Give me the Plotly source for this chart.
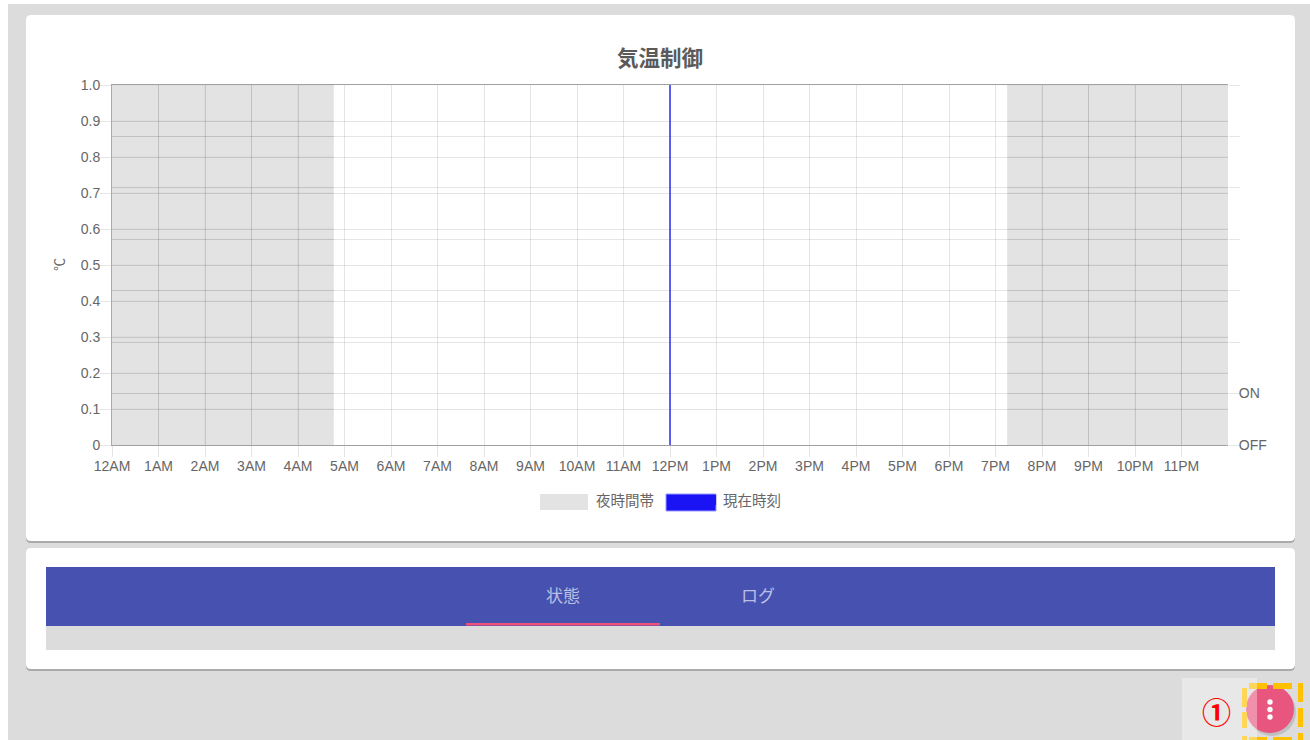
import plotly.graph_objects as go

W, H = 1310, 740
PL, PR, PT, PB = 112, 1228, 85, 445

hours = list(range(24))
hour_labels = ["12AM","1AM","2AM","3AM","4AM","5AM","6AM","7AM","8AM","9AM","10AM","11AM",
               "12PM","1PM","2PM","3PM","4PM","5PM","6PM","7PM","8PM","9PM","10PM","11PM"]
left_ticks = [0, 0.1, 0.2, 0.3, 0.4, 0.5, 0.6, 0.7, 0.8, 0.9, 1.0]
left_labels = ["0", "0.1", "0.2", "0.3", "0.4", "0.5", "0.6", "0.7", "0.8", "0.9", "1.0"]
right_ticks = [0, 1, 2, 3, 4, 5, 6, 7]
right_labels = ["OFF", "ON", "", "", "", "", "", ""]
night_morning_x = [0, 4.77]
night_evening_x = [19.25, 24]
night_y = [1, 1]
now_x = [12, 12]
now_y = [0, 1]

TXT = "#666666"
FONT = "Liberation Sans, Noto Sans CJK JP, sans-serif"
CJK = "Noto Sans CJK JP, sans-serif"
GRID = "rgba(0,0,0,0.1)"
YELLOW = "#ffc000"


def px(x):
    return (x - PL) / (PR - PL)


def py(y):
    return (PB - y) / (PB - PT)


def rect(x0, y0, x1, y1, fill, layer="below", line=None):
    return dict(type="rect", xref="paper", yref="paper", x0=px(x0), x1=px(x1), y0=py(y0), y1=py(y1),
                fillcolor=fill, layer=layer, line=line or dict(width=0))


def rrect(x0, y0, x1, y1, r, fill):
    X0, X1, Y0, Y1, RX, RY = px(x0), px(x1), py(y0), py(y1), r / (PR - PL), r / (PB - PT)
    path = (f"M{X0+RX},{Y0} L{X1-RX},{Y0} Q{X1},{Y0} {X1},{Y0-RY} L{X1},{Y1+RY} Q{X1},{Y1} {X1-RX},{Y1} "
            f"L{X0+RX},{Y1} Q{X0},{Y1} {X0},{Y1+RY} L{X0},{Y0-RY} Q{X0},{Y0} {X0+RX},{Y0} Z")
    return dict(type="path", xref="paper", yref="paper", path=path, fillcolor=fill, layer="below", line=dict(width=0))


def circle(cx, cy, r, fill, layer="above"):
    return dict(type="circle", xref="paper", yref="paper", x0=px(cx - r), x1=px(cx + r), y0=py(cy + r), y1=py(cy - r),
                fillcolor=fill, layer=layer, line=dict(width=0))


fig = go.Figure()
NIGHT = "rgba(0,0,0,0.108)"
for xs in (night_morning_x, night_evening_x):
    fig.add_trace(go.Scatter(x=xs, y=night_y, mode="lines", line=dict(width=0), fill="tozeroy", fillcolor=NIGHT,
                             showlegend=False, hoverinfo="skip"))
    # the grid reads darker through the night band
    grid_x, grid_y = [], []
    for h in hours:
        if xs[0] < h < xs[1]:
            grid_x += [h, h, None]
            grid_y += [0, 1, None]
    for v in left_ticks[1:-1]:
        grid_x += [xs[0], xs[1], None]
        grid_y += [v, v, None]
    for v in right_ticks[1:]:
        grid_x += [xs[0], xs[1], None]
        grid_y += [v / 7, v / 7, None]
    fig.add_trace(go.Scatter(x=grid_x, y=grid_y, mode="lines", line=dict(color="rgba(0,0,0,0.05)", width=1),
                             showlegend=False, hoverinfo="skip"))
fig.add_trace(go.Scatter(x=now_x, y=now_y, mode="lines", line=dict(color="#2b2bf0", width=1.5), showlegend=False, hoverinfo="skip"))
# legend entries
fig.add_trace(go.Scatter(x=[None], y=[None], mode="lines", name="夜時間帯",
                         line=dict(color="#e3e3e3", width=15, dash="48px,100px")))
fig.add_trace(go.Scatter(x=[None], y=[None], mode="lines", name="現在時刻",
                         line=dict(color="#1a14f5", width=15, dash="49px,100px")))
# ON/OFF axis series (no data in the reference)
fig.add_trace(go.Scatter(x=[None], y=[None], yaxis="y2", mode="lines", showlegend=False))

# dashed highlight round the menu button, dash by dash
dash_rects = [
    (1249, 683, 1267, 689), (1273, 683, 1292, 689),
    (1298, 683, 1303, 702), (1298, 708, 1303, 727), (1298, 733, 1303, 740),
    (1242, 688, 1247, 707), (1242, 712, 1247, 728), (1242, 736, 1247, 740),
    (1249, 737, 1267, 740), (1273, 737, 1292, 740),
]

shapes = [
    rect(0, 0, 8, H, "#ffffff"),
    rect(0, 0, W, 4, "#ffffff"),
    rrect(26, 16, 1295, 543, 5, "#aaaaaa"),
    rrect(26, 15, 1295, 541, 5, "#ffffff"),
    rrect(26, 549, 1295, 671, 5, "#aaaaaa"),
    rrect(26, 548, 1295, 669, 5, "#ffffff"),
    rect(46, 567, 1275, 626, "#4651b0"),
    rect(46, 626, 1275, 650, "#dcdcdc"),
    rect(466, 623, 660, 625.5, "#f0507a"),
    rect(540, 494, 588, 510, "#e3e3e3"),
    rect(666, 494, 716, 511, "#1a14f5", line=dict(color="#9a9aff", width=1)),
    circle(1272, 712, 24, "rgba(0,0,0,0.12)", "below"),
    circle(1270, 709, 24, "#e8557f"),
    circle(1270, 702, 2.7, "#ffffff"),
    circle(1270, 709.5, 2.7, "#ffffff"),
    circle(1270, 717, 2.7, "#ffffff"),
]
shapes += [rect(*d, YELLOW, "above") for d in dash_rects]
shapes.append(rect(1182, 678, 1257, 740, "rgba(255,255,255,0.35)", "above"))

annotations = [
    dict(text="<b>気温制御</b>", x=660, y=56, font=dict(family=CJK, size=21.5, color="#5a5a5a")),
    dict(text="℃", x=58, y=265, textangle=-90, font=dict(family=CJK, size=13, color=TXT)),
    dict(text="状態", x=563, y=594, font=dict(family=CJK, size=17, color="#b9c0e4")),
    dict(text="ログ", x=758, y=594, font=dict(family=CJK, size=17, color="#b9c0e4")),
    dict(text="<b>①</b>", x=1216, y=711, font=dict(family=CJK, size=29, color="#ff0000")),
]
for a in annotations:
    a.update(xref="paper", yref="paper", showarrow=False, xanchor="center", yanchor="middle",
             x=px(a["x"]), y=py(a["y"]))

fig.update_layout(
    width=W, height=H, autosize=False,
    margin=dict(l=PL, r=W - PR, t=PT, b=H - PB, pad=0),
    paper_bgcolor="#dcdcdc", plot_bgcolor="rgba(0,0,0,0)",
    font=dict(family=FONT, size=14, color=TXT),
    shapes=shapes, annotations=annotations,
    hovermode=False,
    xaxis=dict(range=[0, 24], tickmode="array", tickvals=hours, ticktext=hour_labels, tickangle=0,
               showgrid=True, gridcolor=GRID, gridwidth=1, ticks="outside", ticklen=11, tickcolor=GRID,
               showline=True, linecolor="#a0a0a0", linewidth=1, mirror=True, zeroline=False, ticklabelstandoff=-3),
    yaxis=dict(range=[0, 1], tickmode="array", tickvals=left_ticks, ticktext=left_labels,
               showgrid=True, gridcolor=GRID, ticks="outside", ticklen=11, tickcolor=GRID,
               showline=True, linecolor="#aaaaaa", zeroline=False, ticklabelstandoff=-3),
    yaxis2=dict(range=[0, 7], overlaying="y", side="right", tickmode="array", tickvals=right_ticks, ticktext=right_labels,
                showgrid=True, gridcolor=GRID, ticks="outside", ticklen=11, tickcolor=GRID, zeroline=False,
                ticklabelstandoff=-4),
    legend=dict(orientation="h", x=px(535), xanchor="left", y=py(500), yanchor="middle",
                itemwidth=51, entrywidth=61, entrywidthmode="pixels",
                bgcolor="rgba(0,0,0,0)", font=dict(family=CJK, size=14.5, color=TXT),
                itemclick=False, itemdoubleclick=False),
)

fig.write_html("out.html", config=dict(displayModeBar=False),
               post_script="document.body.style.margin='0';document.body.style.overflow='hidden';")
